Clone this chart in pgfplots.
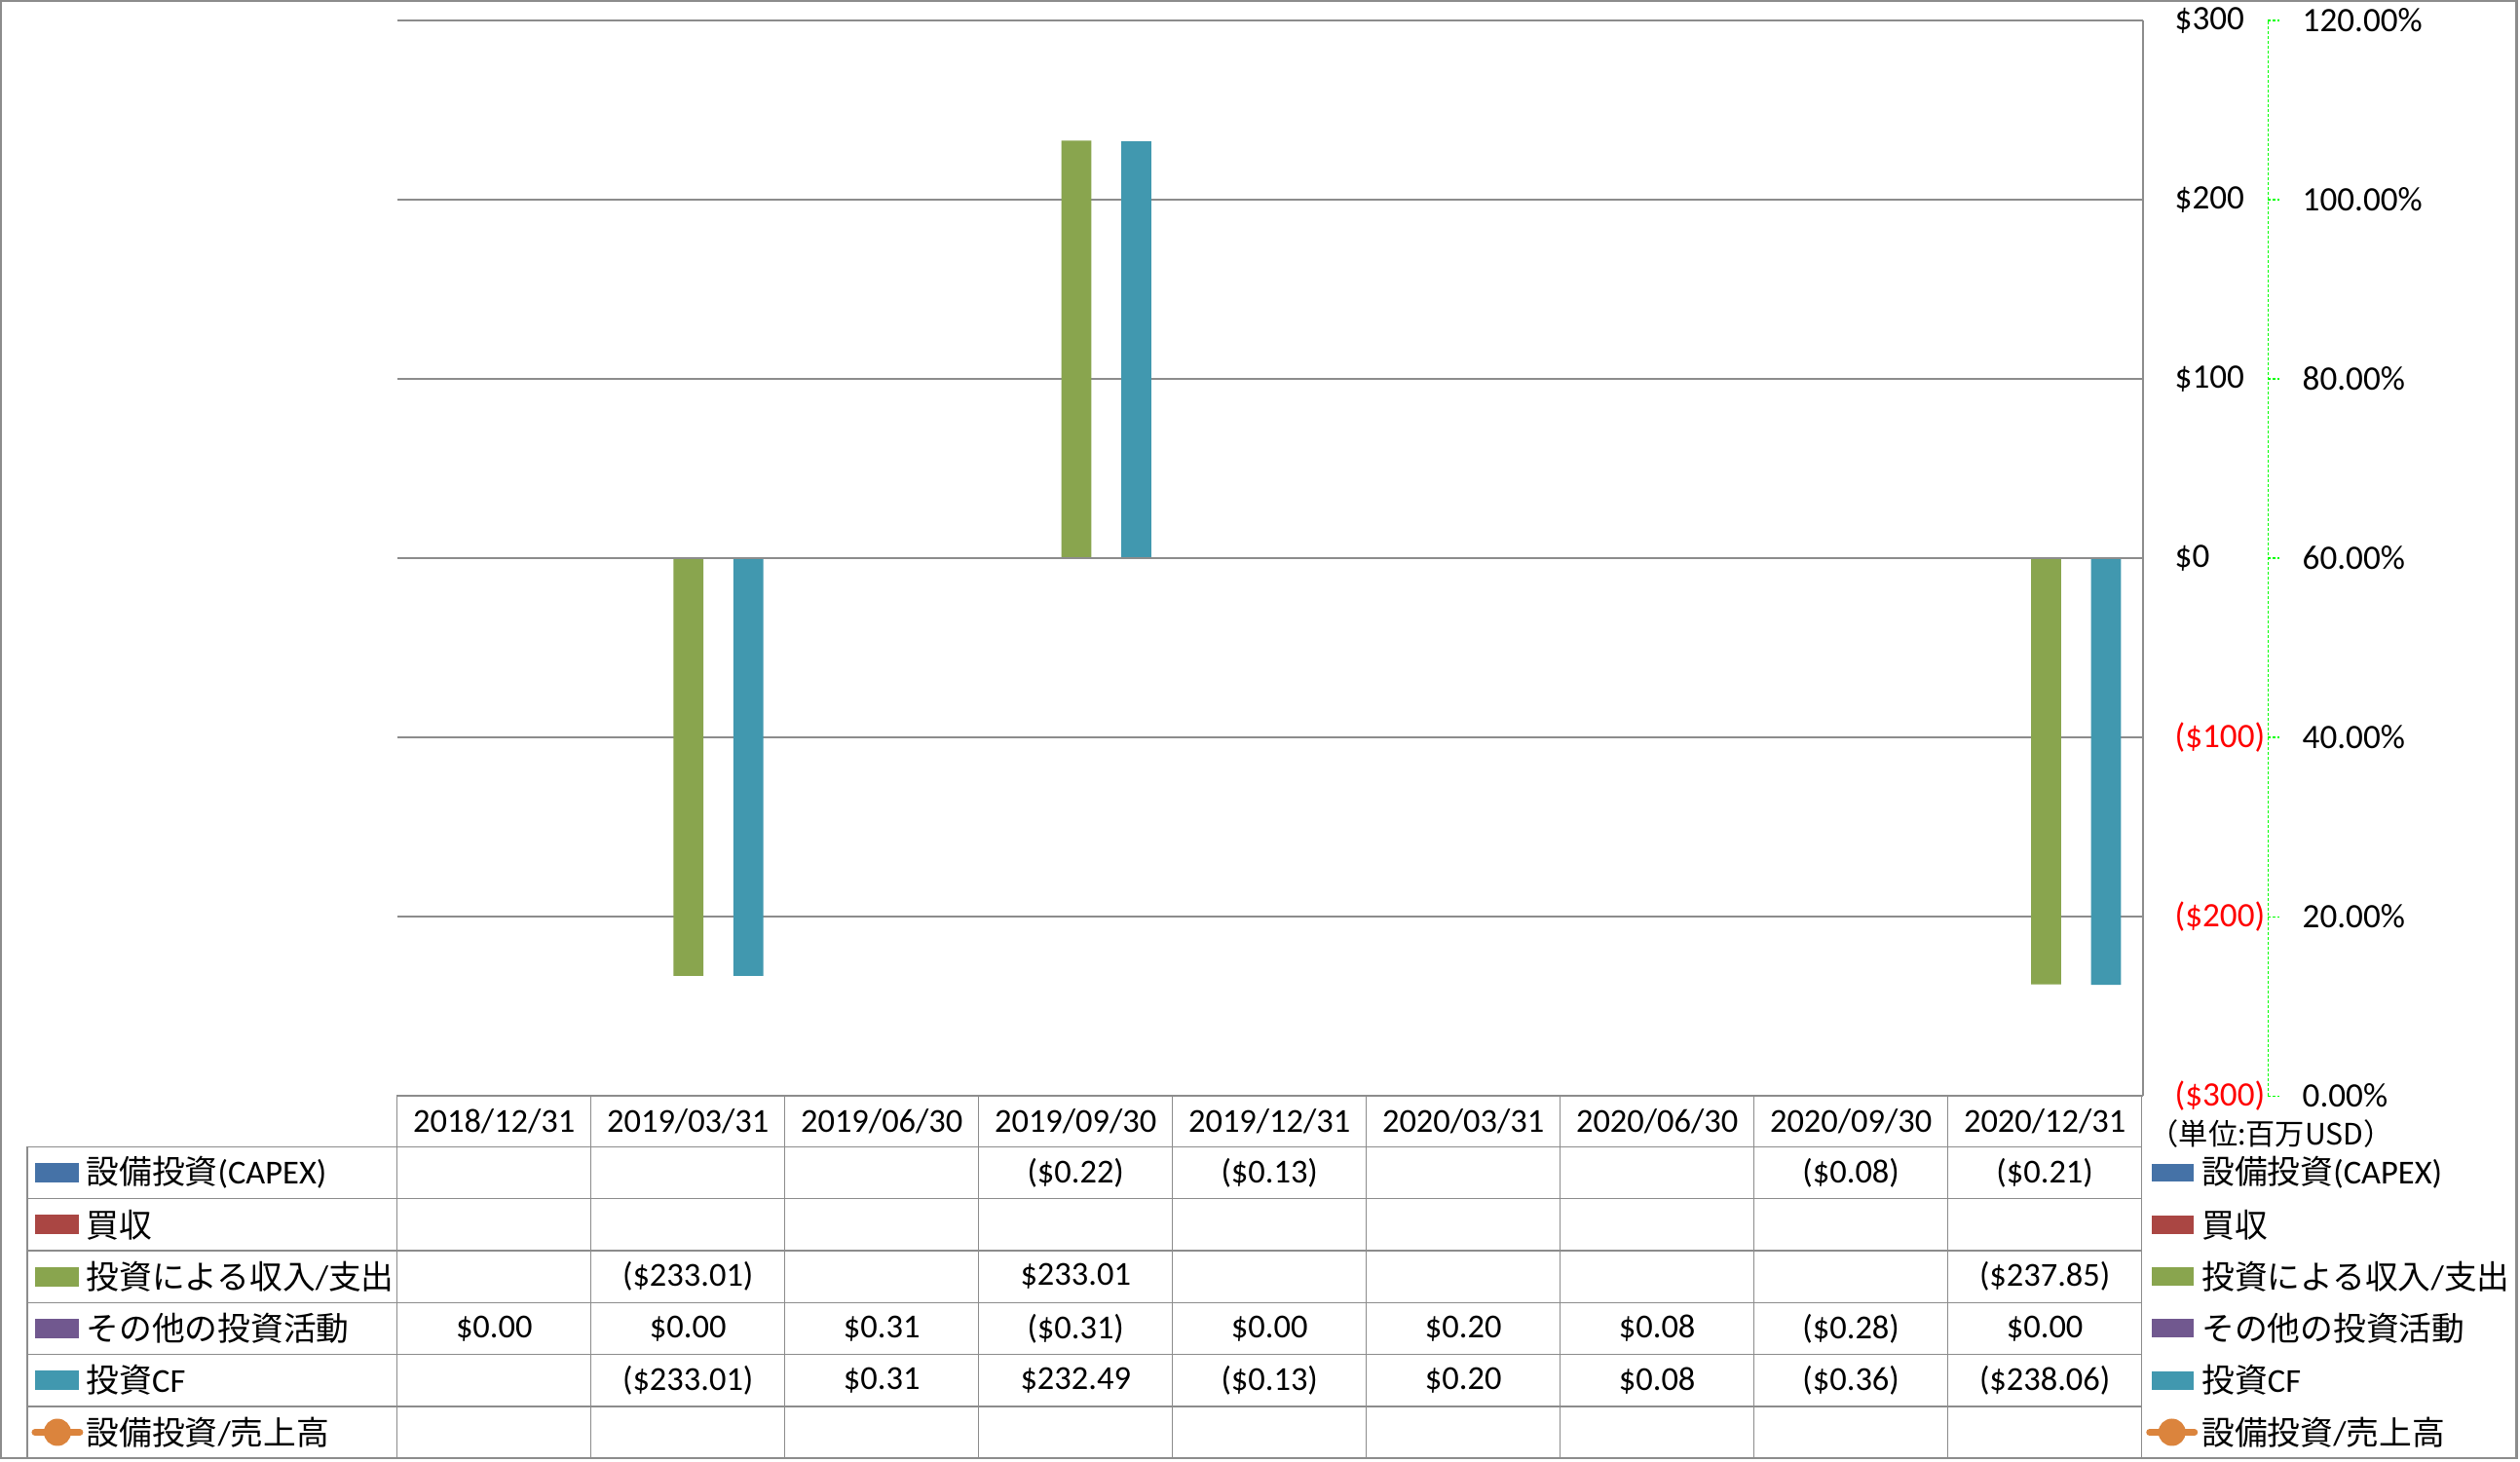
\documentclass[border=0pt]{standalone}
\usepackage{pgfplots}
\pgfplotsset{compat=1.18}
\usepackage{fontspec}
\setmainfont{Carlito}
\newfontfamily\cjk[Scale=0.98]{Noto Sans CJK JP}
\newfontfamily\cjkunit{Noto Sans CJK JP}
\definecolor{cB}{HTML}{4572A7}
\definecolor{cR}{HTML}{AA4643}
\definecolor{cG}{HTML}{89A54E}
\definecolor{cP}{HTML}{71588F}
\definecolor{cT}{HTML}{4198AF}
\definecolor{cO}{HTML}{DB843D}
\definecolor{gridc}{HTML}{8C8C8C}
\definecolor{grn}{HTML}{00FF00}
\newcommand\tfont{\fontsize{9.8}{12}\selectfont}
\begin{document}
\begin{tikzpicture}
\useasboundingbox (0,0) rectangle (25.87cm,-15cm);
\begin{axis}[
  at={(4.08cm,-11.25cm)}, anchor=south west,
  scale only axis, width=17.92cm, height=11.04cm,
  xmin=0, xmax=9, ymin=-300, ymax=300,
  axis line style={draw=none},
  xtick=\empty,
  ytick={-300,-200,-100,0,100,200,300},
  yticklabels={\textcolor{red}{(\$300)},\textcolor{red}{(\$200)},\textcolor{red}{(\$100)},\$0,\$100,\$200,\$300},
  yticklabel pos=right,
  major tick length=0pt,
  yticklabel style={anchor=west, inner sep=0pt, xshift=0.32cm, font=\fontsize{10}{12}\selectfont},
  ymajorgrids,
  grid style={gridc, line width=0.4pt},
  clip=false,
]
% 設備投資(CAPEX)
\addplot[ybar, fill=cB, draw=none, bar width=0.1545, bar shift=-0.309] coordinates {(3.5,-0.22) (4.5,-0.13) (7.5,-0.08) (8.5,-0.21)};
% 投資による収入/支出
\addplot[ybar, fill=cG, draw=none, bar width=0.1545, bar shift=0] coordinates {(1.5,-233.01) (3.5,233.01) (8.5,-237.85)};
% その他の投資活動
\addplot[ybar, fill=cP, draw=none, bar width=0.1545, bar shift=0.1545] coordinates {(0.5,0) (1.5,0) (2.5,0.31) (3.5,-0.31) (4.5,0) (5.5,0.20) (6.5,0.08) (7.5,-0.28) (8.5,0)};
% 投資CF
\addplot[ybar, fill=cT, draw=none, bar width=0.1545, bar shift=0.309] coordinates {(1.5,-233.01) (2.5,0.31) (3.5,232.49) (4.5,-0.13) (5.5,0.20) (6.5,0.08) (7.5,-0.36) (8.5,-238.06)};
\draw[gridc, line width=0.5pt] (axis cs:9,-300) -- (axis cs:9,300);
\draw[gridc, line width=0.5pt] (axis cs:0,0) -- (axis cs:9,0);
\end{axis}
\begin{axis}[
  at={(23.28cm,-11.25cm)}, anchor=south west,
  scale only axis, width=1cm, height=11.04cm,
  xmin=0, xmax=1, ymin=0, ymax=1.2,
  axis x line=none, axis y line*=left,
  y axis line style={grn, dash pattern=on 0.033cm off 0.017cm, line width=0.3pt},
  ytick={0,0.2,0.4,0.6,0.8,1,1.2},
  yticklabels={0.00\%,20.00\%,40.00\%,60.00\%,80.00\%,100.00\%,120.00\%},
  tick align=inside, major tick length=0.12cm,
  ytick style={grn, dash pattern=on 0.033cm off 0.017cm, line width=0.3pt},
  yticklabel style={anchor=west, inner sep=0pt, xshift=0.35cm, font=\fontsize{10}{12}\selectfont},
]
\end{axis}
\begin{scope}[x=0.01cm, y=-0.01cm]
  % table lines
  \foreach \k in {0,...,9} {
    \pgfmathsetmacro\xx{408+199.1*\k}
    \draw[gridc, line width=0.4pt] (\xx,1125) -- (\xx,1498);
  }
  \draw[gridc, line width=0.4pt] (28,1178) -- (28,1498);
  \foreach \yy in {1178,1231.3,1284.7,1338,1391.3,1444.7} {
    \draw[gridc, line width=0.4pt] (28,\yy) -- (2200,\yy);
  }
  % header
  \foreach \lab [count=\i from 0] in {2018/12/31,2019/03/31,2019/06/30,2019/09/30,2019/12/31,2020/03/31,2020/06/30,2020/09/30,2020/12/31} {
    \pgfmathsetmacro\xx{408+199.1*(\i+0.5)}
    \node[font=\tfont, inner sep=0pt] at (\xx,1151.5) {\lab};
  }
  % cells
  \newcommand\cell[3]{%
    \pgfmathsetmacro\xx{408+199.1*(#1+0.5)}%
    \pgfmathsetmacro\yy{1178+53.33*(#2+0.5)}%
    \node[font=\tfont, inner sep=0pt] at (\xx,\yy) {#3};}
  \cell{3}{0}{(\$0.22)} \cell{4}{0}{(\$0.13)} \cell{7}{0}{(\$0.08)} \cell{8}{0}{(\$0.21)}
  \cell{1}{2}{(\$233.01)} \cell{3}{2}{\$233.01} \cell{8}{2}{(\$237.85)}
  \cell{0}{3}{\$0.00} \cell{1}{3}{\$0.00} \cell{2}{3}{\$0.31} \cell{3}{3}{(\$0.31)} \cell{4}{3}{\$0.00}
  \cell{5}{3}{\$0.20} \cell{6}{3}{\$0.08} \cell{7}{3}{(\$0.28)} \cell{8}{3}{\$0.00}
  \cell{1}{4}{(\$233.01)} \cell{2}{4}{\$0.31} \cell{3}{4}{\$232.49} \cell{4}{4}{(\$0.13)}
  \cell{5}{4}{\$0.20} \cell{6}{4}{\$0.08} \cell{7}{4}{(\$0.36)} \cell{8}{4}{(\$238.06)}
  % legend keys (left and right)
  \foreach \c/\r in {cB/0,cR/1,cG/2,cP/3,cT/4} {
    \pgfmathsetmacro\yy{1178+53.33*(\r+0.5)}
    \fill[\c] (36,\yy-10) rectangle (81,\yy+10);
    \fill[\c] (2210,\yy-9.5) rectangle (2253,\yy+9.5);
  }
  \pgfmathsetmacro\yy{1178+53.33*5.5}
  \draw[cO, line width=0.07cm, line cap=round] (36,\yy) -- (82,\yy);
  \fill[cO] (59,\yy) circle (0.14cm);
  \draw[cO, line width=0.07cm, line cap=round] (2208,\yy) -- (2254,\yy);
  \fill[cO] (2231,\yy) circle (0.14cm);
  % legend labels
  \foreach \lab [count=\r from 0] in {{\cjk 設備投資}(CAPEX),{\cjk 買収},{\cjk 投資による収入}/{\cjk 支出},{\cjk その他の投資活動},{\cjk 投資}CF,{\cjk 設備投資}/{\cjk 売上高}} {
    \pgfmathsetmacro\yy{1178+53.33*(\r+0.5)}
    \node[font=\tfont, inner sep=0pt, anchor=west] at (88,\yy) {\lab};
    \node[font=\tfont, inner sep=0pt, anchor=west] at (2261,\yy) {\lab};
  }
  % unit note
  \node[font=\fontsize{8.6}{10}\selectfont\cjkunit, inner sep=0pt] at (2333,1165) {（単位:百万USD）};
  % outer frame
  \draw[gridc, line width=0.025cm] (1,1) rectangle (2585,1498);
\end{scope}
\end{tikzpicture}
\end{document}
